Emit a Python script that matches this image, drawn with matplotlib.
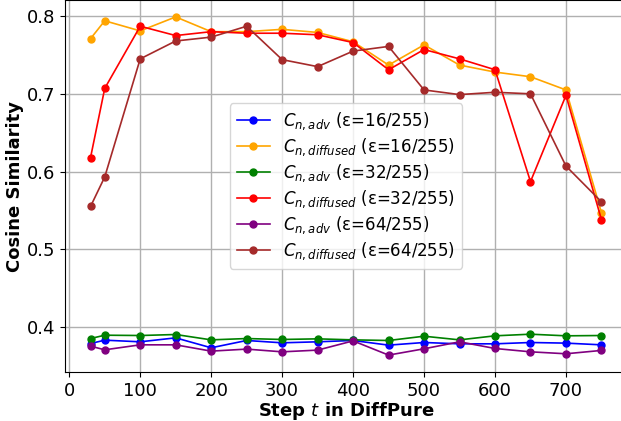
import matplotlib
matplotlib.use("Agg")
import matplotlib.pyplot as plt

steps = [30, 50, 100, 150, 200, 250, 300, 350, 400, 450, 500, 550, 600, 650, 700, 750]

adv_16 = [0.3786, 0.3829, 0.3808, 0.3859, 0.3731, 0.3825, 0.3795, 0.3808, 0.3825, 0.3765, 0.3799, 0.3782, 0.3782, 0.3799, 0.3791, 0.3769]
diff_16 = [0.771, 0.794, 0.781, 0.799, 0.780, 0.780, 0.783, 0.779, 0.767, 0.737, 0.763, 0.737, 0.728, 0.722, 0.705, 0.547]
adv_32 = [0.385, 0.3893, 0.3889, 0.3902, 0.3833, 0.385, 0.3838, 0.3846, 0.3833, 0.3825, 0.388, 0.3833, 0.3885, 0.3906, 0.3885, 0.3889]
diff_32 = [0.618, 0.707, 0.787, 0.775, 0.780, 0.778, 0.778, 0.776, 0.766, 0.731, 0.757, 0.745, 0.731, 0.587, 0.698, 0.538]
adv_64 = [0.3752, 0.3705, 0.3769, 0.3769, 0.3688, 0.3714, 0.3679, 0.3701, 0.382, 0.3637, 0.3718, 0.3808, 0.3722, 0.3679, 0.3654, 0.3697]
diff_64 = [0.555, 0.593, 0.745, 0.768, 0.773, 0.787, 0.744, 0.735, 0.755, 0.761, 0.705, 0.699, 0.702, 0.700, 0.607, 0.561]

series = [
    (adv_16, "blue", r"$C_{n,adv}$ (ε=16/255)"),
    (diff_16, "orange", r"$C_{n,diffused}$ (ε=16/255)"),
    (adv_32, "green", r"$C_{n,adv}$ (ε=32/255)"),
    (diff_32, "red", r"$C_{n,diffused}$ (ε=32/255)"),
    (adv_64, "purple", r"$C_{n,adv}$ (ε=64/255)"),
    (diff_64, "brown", r"$C_{n,diffused}$ (ε=64/255)"),
]

fig = plt.figure(figsize=(6.21, 4.21), dpi=100)
ax = fig.add_axes([65/621, 49/421, 562/621, 372/421])
for vals, c, lab in series:
    ax.plot(steps, vals, marker="o", color=c, label=lab, linewidth=1.2, markersize=5)

ax.set_xticks([0, 100, 200, 300, 400, 500, 600, 700])
ax.set_yticks([0.4, 0.5, 0.6, 0.7, 0.8])
ax.tick_params(labelsize=13)
ax.set_xlabel(r"Step $t$ in DiffPure", fontsize=13, fontweight="bold", labelpad=0)
ax.set_ylabel("Cosine Similarity", fontsize=13, fontweight="bold", labelpad=2)
ax.grid(True, linewidth=1.0, color="#b0b0b0")
ax.legend(loc="center", fontsize=12, labelspacing=0.27)
fig.savefig("out.png", dpi=100)
